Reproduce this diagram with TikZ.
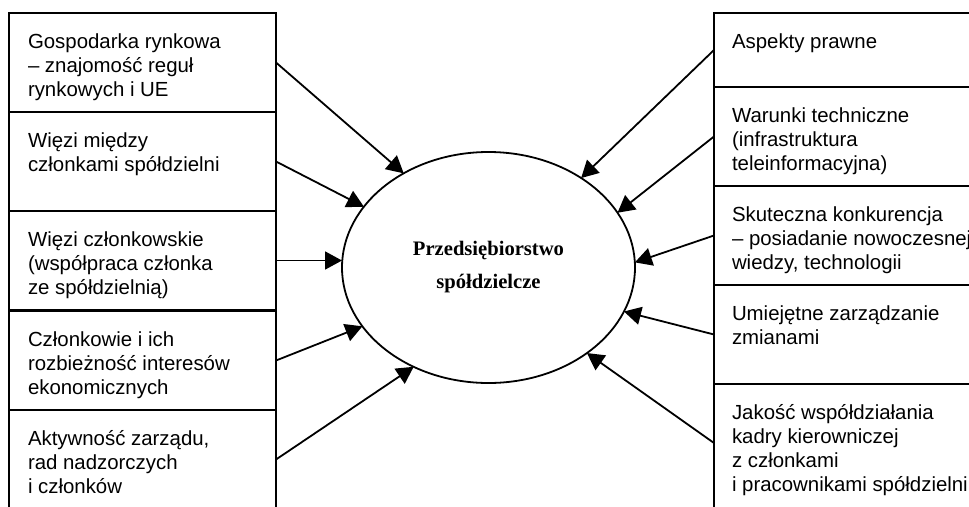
\documentclass[tikz,border=0pt]{standalone}
\usepackage{fontspec}
\setmainfont{Liberation Sans}
\newfontfamily\titlefont{Liberation Serif}
\usetikzlibrary{arrows.meta,shapes.geometric}

\begin{document}
\begin{tikzpicture}[x=1pt,y=-1pt,
  factor/.style={draw, line width=2pt, rectangle, inner sep=0pt, outer sep=0pt,
                 anchor=north west, minimum height=99pt},
  lfactor/.style={factor, minimum width=267pt},
  rfactor/.style={factor, minimum width=290pt},
  factortext/.style={anchor=north west, inner sep=0pt, outer sep=0pt, align=left,
                     font=\fontsize{20.4}{24}\selectfont},
  arr/.style={line width=1.8pt, -{Triangle[length=17pt,width=18pt]}}
]
\useasboundingbox (0,0) rectangle (969,506);
\clip (0,0) rectangle (969,506);

% left column of factors
\node[lfactor] (lb1) at (9,13)  {};
\node[lfactor] (lb2) at (9,112) {};
\node[lfactor] (lb3) at (9,211) {};
\node[lfactor] (lb4) at (9,311) {};
\node[lfactor] (lb5) at (9,410) {};

% right column of factors
\node[rfactor, minimum height=74pt]  (rb1) at (714,13)  {};
\node[rfactor] (rb2) at (714,87)  {};
\node[rfactor] (rb3) at (714,186) {};
\node[rfactor] (rb4) at (714,285) {};
\node[rfactor, minimum height=130pt] (rb5) at (714,384) {};

% texts of the factors
\node[factortext] (lt1) at ([shift={(19pt,-18.2pt)}]lb1.north west) {\strut Gospodarka rynkowa\\– znajomość reguł\\rynkowych i UE};
\node[factortext] (lt2) at ([shift={(19pt,-18.2pt)}]lb2.north west) {\strut Więzi między\\członkami spółdzielni};
\node[factortext] (lt3) at ([shift={(19pt,-18.2pt)}]lb3.north west) {\strut Więzi członkowskie\\(współpraca członka\\ze spółdzielnią)};
\node[factortext] (lt4) at ([shift={(19pt,-18.2pt)}]lb4.north west) {\strut Członkowie i ich\\rozbieżność interesów\\ekonomicznych};
\node[factortext] (lt5) at ([shift={(19pt,-18.2pt)}]lb5.north west) {\strut Aktywność zarządu,\\rad nadzorczych\\i członków};

\node[factortext] (rt1) at ([shift={(18pt,-18.2pt)}]rb1.north west) {\strut Aspekty prawne};
\node[factortext] (rt2) at ([shift={(18pt,-18.2pt)}]rb2.north west) {\strut Warunki techniczne\\(infrastruktura\\teleinformacyjna)};
\node[factortext] (rt3) at ([shift={(18pt,-18.2pt)}]rb3.north west) {\strut Skuteczna konkurencja\\– posiadanie nowoczesnej\\wiedzy, technologii};
\node[factortext] (rt4) at ([shift={(18pt,-18.2pt)}]rb4.north west) {\strut Umiejętne zarządzanie\\zmianami};
\node[factortext] (rt5) at ([shift={(18pt,-18.2pt)}]rb5.north west) {\strut Jakość współdziałania\\kadry kierowniczej\\z członkami\\i pracownikami spółdzielni};

% the enterprise in the middle
\node[ellipse, draw, line width=1.8pt, inner sep=0pt, outer sep=0pt,
      minimum width=293pt, minimum height=231pt, align=center,
      font=\titlefont\bfseries\fontsize{20.6}{33}\selectfont]
  (firm) at (488.5,267.5) {Przedsiębiorstwo\\spółdzielcze};

% influences on the enterprise
\draw[arr] (lb1.east) -- (firm.132);
\draw[arr] (lb2.east) -- (firm.154);
\draw[arr] (lb3.east) -- (lb3.east -| firm.west);
\draw[arr] (lb4.east) -- (firm.205);
\draw[arr] (lb5.east) -- (firm.233);

\draw[arr] (rb1.west) -- (firm.44);
\draw[arr] (rb2.west) -- (firm.23);
\draw[arr] (rb3.west) -- (firm.2);
\draw[arr] (rb4.west) -- (firm.342);
\draw[arr] ([yshift=6pt]rb5.west) -- (firm.319);
\end{tikzpicture}
\end{document}
